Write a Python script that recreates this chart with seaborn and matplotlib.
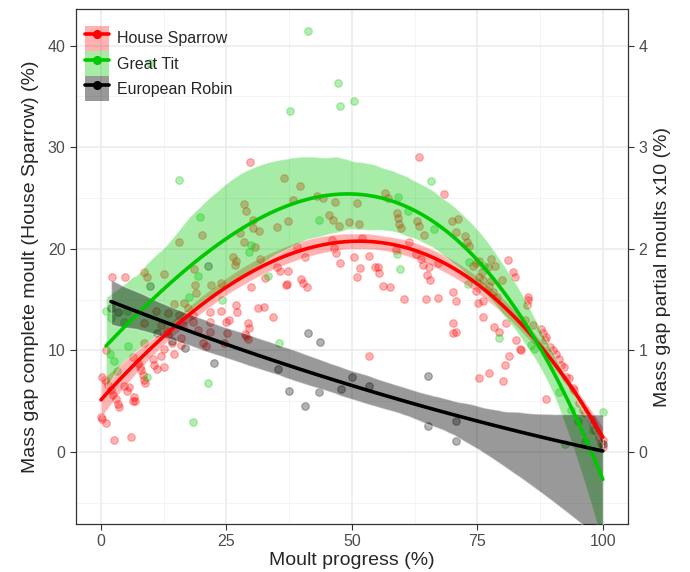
import numpy as np
import pandas as pd
import seaborn as sns
import matplotlib.pyplot as plt
from matplotlib.patches import Patch
from matplotlib.lines import Line2D
from matplotlib.legend_handler import HandlerTuple

sns.set_style("white")
plt.rcParams['font.family'] = ['Liberation Sans', 'DejaVu Sans']

# House Sparrow (complete moult)
sparrow_x = [0.0, 0.3, 0.9, 2.5, 5.9, 0.2, 0.7, 1.3, 2.0, 2.3, 3.0, 3.3, 3.6,
             1.0, 4.6, 5.2, 5.6, 6.3, 6.6, 6.8, 6.3, 7.3,
             8.0, 8.3, 8.6, 8.8, 7.8, 8.6, 2.2, 4.8, 8.6, 9.2, 8.5,
             10.3, 10.6, 11.1, 12.6, 12.0, 12.6, 14.6, 14.1, 15.9, 13.3, 12.0,
             13.3, 14.6, 16.5, 17.3, 18.3, 18.3, 19.3, 13.1, 15.5, 16.3, 11.0,
             16.0, 12.6, 15.5, 18.5, 18.7, 18.9,
             20.3, 20.9, 21.8, 21.8, 21.8, 23.9, 24.9, 25.1, 24.5, 25.5, 26.9,
             27.1, 28.9, 29.3, 29.5, 28.7, 29.3, 29.9, 20.1, 21.9, 23.9, 26.7,
             26.3, 26.9, 28.5, 28.9, 29.7, 27.7, 28.5,
             30.3, 30.3, 31.5, 30.7, 31.7, 31.3, 32.5, 34.3, 35.1, 35.7, 37.3,
             32.7, 37.1, 36.9, 39.8, 36.5, 39.6, 35.1, 37.3, 38.2, 39.0,
             40.2, 41.0, 40.6, 43.0, 44.2, 46.6, 45.4, 46.2, 49.4, 47.4, 46.0,
             46.4, 46.8, 47.6,
             51.0, 51.4, 50.4, 51.6, 51.0, 52.0, 53.4, 54.6, 53.4, 55.2, 55.4,
             56.2, 57.6, 56.6, 57.2, 59.0, 59.2, 59.4, 59.8, 58.8,
             63.3, 68.3, 62.9, 63.3, 64.3, 61.4, 62.7, 63.7, 64.1, 65.3, 64.9,
             65.5, 67.1, 60.4, 64.7, 67.1, 69.9,
             71.1, 70.7, 72.5, 72.9, 73.3, 70.1, 70.7, 70.1, 70.1, 70.7, 77.7,
             78.5, 74.7, 74.1, 75.9, 75.3, 76.1, 77.7, 77.3, 79.9, 78.1, 78.9,
             74.7, 75.1, 76.1, 76.1, 78.3, 79.3, 75.3, 77.3, 75.3, 77.1,
             81.1, 82.1, 82.5, 80.7, 81.3, 80.5, 80.1, 85.0, 84.9, 85.1, 82.7,
             83.5, 83.7, 87.6, 88.0, 88.6, 88.4, 88.6, 86.0, 84.5,
             90.6, 91.2, 91.6, 92.2, 92.6, 93.2, 94.2, 94.0, 95.2, 96.0, 96.5,
             97.6, 98.0, 98.5, 99.2, 99.6, 100.0, 100.0, 90.0, 89.5]
sparrow_y = [3.4, 3.2, 2.8, 1.2, 1.5, 7.4, 7.1, 6.6, 6.1, 5.6, 5.2, 4.7, 4.4,
             10.0, 6.5, 6.0, 6.4, 5.0, 5.4, 5.0, 9.3, 8.8,
             8.1, 7.6, 7.1, 6.8, 8.4, 10.7, 17.2, 17.2, 17.7, 17.2, 12.7,
             9.1, 8.6, 8.2, 8.4, 9.4, 10.1, 9.6, 10.7, 11.2, 11.5, 12.5,
             13.7, 14.6, 14.7, 14.2, 13.5, 12.8, 12.0, 11.9, 13.5, 12.5, 13.9,
             10.5, 17.5, 20.7, 18.0, 16.4, 15.6,
             10.7, 10.4, 11.8, 12.8, 13.8, 13.9, 12.8, 11.7, 10.7, 13.0, 14.5,
             13.8, 11.4, 12.7, 12.2, 11.6, 11.1, 16.2, 21.4, 16.4, 16.6, 18.4,
             19.2, 18.8, 24.4, 23.7, 28.5, 21.6, 20.7,
             22.8, 22.0, 21.8, 20.2, 19.0, 14.2, 14.3, 13.3, 18.2, 17.8, 17.8,
             17.1, 16.5, 16.4, 17.0, 27.0, 26.2, 22.1, 22.7, 24.8, 20.2,
             16.6, 16.2, 19.2, 25.2, 25.0, 24.6, 23.3, 22.8, 22.6, 22.2, 20.9,
             20.1, 19.6, 18.6,
             24.5, 22.4, 19.2, 18.1, 17.2, 21.1, 19.3, 18.2, 9.4, 18.2, 17.6,
             16.3, 16.2, 25.5, 25.0, 23.5, 23.0, 22.4, 22.0, 19.9,
             29.0, 25.4, 22.7, 22.2, 21.4, 20.7, 19.5, 19.0, 18.4, 18.2, 17.4,
             16.9, 18.6, 15.1, 15.1, 15.2, 22.7,
             22.9, 21.7, 21.3, 20.7, 20.3, 15.7, 14.9, 12.7, 11.7, 11.8, 19.0,
             18.3, 18.6, 18.3, 17.7, 17.2, 16.9, 16.8, 16.3, 16.9, 15.7, 15.3,
             15.8, 14.7, 14.9, 13.3, 12.3, 11.8, 7.3, 7.8, 18.8, 18.2,
             18.9, 17.7, 17.2, 12.7, 9.4, 8.6, 7.0, 15.3, 14.5, 15.0, 11.0,
             10.1, 10.0, 12.1, 11.7, 11.3, 11.0, 5.2, 12.5, 13.0,
             9.6, 9.1, 8.6, 8.4, 7.4, 7.3, 6.1, 6.3, 4.8, 4.1, 3.8,
             3.2, 2.7, 2.2, 1.5, 0.9, 0.5, 1.2, 10.0, 10.3]

# Great Tit (partial moult x10)
tit_x = [1.0, 2.0, 5.2, 4.6, 9.2, 18.3, 21.4, 17.6, 24.2, 9.8, 15.5, 19.7,
         19.4, 29.9, 29.5, 33.3, 35.5, 37.6, 41.2, 43.5, 47.2, 47.6, 50.4,
         59.2, 61.2, 65.7, 66.3, 59.0, 59.6, 73.3, 76.3, 73.1, 79.3, 85.7,
         86.3, 91.2, 93.6, 95.0, 92.4, 100.0, 96.5, 98.0,
         1.7, 2.5, 3.2, 5.3]
tit_y = [13.9, 13.2, 13.9, 12.8, 7.4, 2.9, 6.8, 15.3, 15.0, 38.3, 26.8, 23.1,
         17.3, 20.4, 19.7, 17.3, 10.7, 33.6, 41.4, 22.8, 36.3, 34.1, 34.6,
         25.1, 23.7, 26.7, 21.9, 19.5, 18.0, 18.7, 18.3, 16.5, 11.2, 10.5,
         10.1, 5.9, 4.1, 3.0, 0.8, 3.9, 1.0, 2.2,
         9.6, 8.9, 8.0, 10.4]

# European Robin (partial moult x10)
robin_x = [2.0, 3.3, 9.8, 21.3, 11.2, 14.1, 16.7, 22.5, 35.3, 37.5, 40.6,
           41.2, 43.4, 43.6, 47.8, 50.0, 53.4, 65.1, 65.1, 70.7, 70.7, 100.0]
robin_y = [14.2, 13.8, 16.3, 18.3, 11.7, 10.9, 10.2, 8.8, 8.2, 6.0, 4.5,
           11.7, 5.9, 10.8, 6.2, 7.4, 6.5, 7.5, 2.5, 3.0, 1.1, 0.8]

species = ["House Sparrow", "Great Tit", "European Robin"]
colours = ["#FF0000", "#00C800", "#000000"]
band_alpha = [0.3, 0.35, 0.4]
orders = [3, 3, 2]

frames = [pd.DataFrame({"x": sparrow_x, "y": sparrow_y}),
          pd.DataFrame({"x": tit_x, "y": tit_y}),
          pd.DataFrame({"x": robin_x, "y": robin_y})]

fig = plt.figure(figsize=(6.9, 5.72), dpi=100)
ax = fig.add_axes([0.110, 0.084, 0.800, 0.900])

for df, c, a, o in zip(frames, colours, band_alpha, orders):
    n0 = len(ax.collections)
    sns.regplot(data=df, x="x", y="y", order=o, ci=95, seed=3, ax=ax,
                color=c, n_boot=500,
                scatter_kws=dict(s=30, alpha=0.3, edgecolor=c, linewidths=0.8, zorder=2),
                line_kws=dict(lw=2.6, zorder=4))
    # regplot fixes the band alpha, so reset it here
    for coll in ax.collections[n0:]:
        if coll.__class__.__name__ != "PathCollection":
            coll.set_facecolor(c)
            coll.set_alpha(a)
            coll.set_zorder(3)

ax.set_xlim(-5, 105)
ax.set_ylim(-7.1, 43.6)
ax.set_xticks([0, 25, 50, 75, 100])
ax.set_yticks([0, 10, 20, 30, 40])
ax.set_xticks([12.5, 37.5, 62.5, 87.5], minor=True)
ax.set_yticks([-5, 5, 15, 25, 35], minor=True)
ax.grid(True, which="major", color="#EBEBEB", lw=1.1, zorder=0)
ax.grid(True, which="minor", color="#F2F2F2", lw=0.6, zorder=0)
ax.set_axisbelow(True)
ax.tick_params(which="major", direction="out", length=4, width=0.8,
               color="#333333", labelsize=11.5, labelcolor="#4D4D4D", left=True, bottom=True)
ax.tick_params(which="minor", length=0)
for s in ax.spines.values():
    s.set_color("#333333")
    s.set_linewidth(0.9)
ax.set_xlabel("Moult progress (%)", fontsize=14, labelpad=2)
ax.set_ylabel("Mass gap complete moult (House Sparrow) (%)", fontsize=14, labelpad=6)

ax2 = ax.twinx()
ax2.set_ylim(-0.71, 4.36)
ax2.set_yticks([0, 1, 2, 3, 4])
ax2.tick_params(direction="out", length=4, width=0.8, color="#333333",
                labelsize=11.5, labelcolor="#4D4D4D", right=True)
ax2.set_ylabel("Mass gap partial moults x10 (%)", fontsize=14, labelpad=5)
for s in ax2.spines.values():
    s.set_visible(False)

handles = []
for c, a in zip(colours, band_alpha):
    box = Patch(facecolor=c, alpha=a, edgecolor="none")
    ln = Line2D([], [], color=c, lw=2.6, marker="o", markersize=5.5,
                markerfacecolor=c, markeredgecolor=c)
    handles.append((box, ln))
ax.legend(handles, species, handler_map={tuple: HandlerTuple(ndivide=1, pad=0)},
          loc="upper left", bbox_to_anchor=(0.0, 0.985), frameon=False,
          fontsize=11.5, handlelength=1.5, handleheight=2.05, labelspacing=0.0,
          handletextpad=0.55, borderaxespad=0.3, borderpad=0.25)

fig.savefig("out.png", dpi=100)
